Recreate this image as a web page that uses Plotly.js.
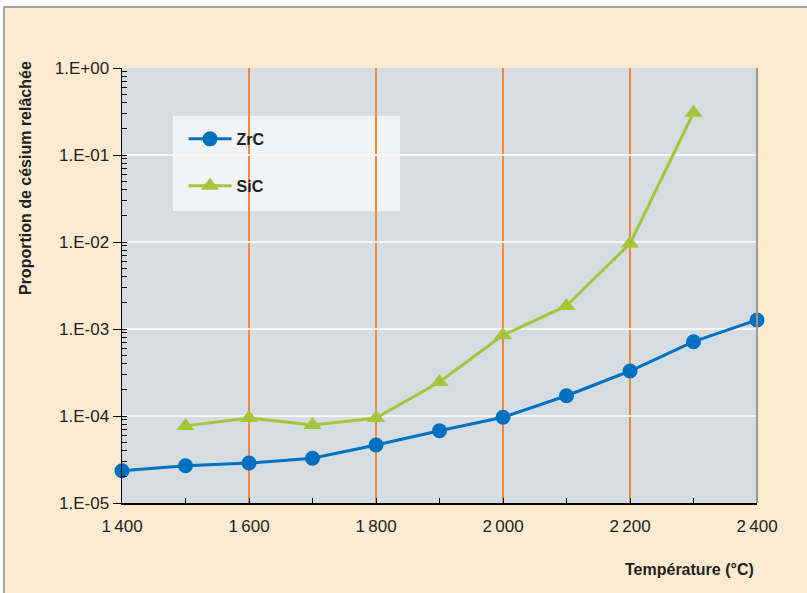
<!DOCTYPE html>
<html>
<head>
<meta charset="utf-8">
<script src="https://cdn.plot.ly/plotly-3.0.1.min.js"></script>
<style>
  html, body { margin: 0; padding: 0; background: #ffffff; }
  #frame { position: absolute; left: 3px; top: 6px; width: 804px; height: 587px;
           background: #FCEBD0; border-left: 2px solid #9EA6A6; border-top: 2px solid #9EA6A6; }
  #chart { position: absolute; left: 0; top: 0; width: 807px; height: 593px; }
</style>
</head>
<body>
<div id="frame"></div>
<div id="chart"></div>
<script>
const temperatures = [1400, 1500, 1600, 1700, 1800, 1900, 2000, 2100, 2200, 2300, 2400];
const zrcValues = [2.35e-5, 2.68e-5, 2.88e-5, 3.27e-5, 4.64e-5, 6.78e-5, 9.66e-5, 1.71e-4, 3.29e-4, 7.15e-4, 1.27e-3];
const sicTemps = [1500, 1600, 1700, 1800, 1900, 2000, 2100, 2200, 2300];
const sicValues = [7.7e-5, 9.5e-5, 7.9e-5, 9.5e-5, 2.46e-4, 8.5e-4, 1.84e-3, 9.6e-3, 0.306];
const xTickVals = [1400, 1600, 1800, 2000, 2200, 2400];
const xTickText = ['1\u2009400', '1\u2009600', '1\u2009800', '2\u2009000', '2\u2009200', '2\u2009400'];
const xMinorVals = [1500, 1700, 1900, 2100, 2300];
const yTickVals = [1, 0.1, 0.01, 0.001, 0.0001, 0.00001];
const yTickText = ['1.E+00', '1.E-01', '1.E-02', '1.E-03', '1.E-04', '1.E-05'];
const seriesNames = ['ZrC', 'SiC'];
const xTitle = 'Température (°C)';
const yTitle = 'Proportion de césium relâchée';

const blue = '#0070C0';
const green = '#A5C63B';
const font = '"Liberation Sans", Arial, Helvetica, sans-serif';

const traces = [
  { x: temperatures, y: zrcValues, name: seriesNames[0], type: 'scatter', mode: 'lines+markers',
    legendgroup: 'a', cliponaxis: false, yaxis: 'y2',
    line: { color: blue, width: 3 }, marker: { symbol: 'circle', size: 15, color: blue } },
  { x: sicTemps, y: sicValues, name: seriesNames[1], type: 'scatter', mode: 'lines+markers',
    legendgroup: 'b', cliponaxis: false, yaxis: 'y',
    line: { color: green, width: 3 }, marker: { symbol: 'triangle-up', size: 16, color: green } }
];

const layout = {
  width: 807, height: 593,
  margin: { l: 122, r: 50, t: 68, b: 90 },
  paper_bgcolor: 'rgba(0,0,0,0)',
  plot_bgcolor: '#D5DDE3',
  font: { family: font, size: 17, color: '#231F20' },
  showlegend: true,
  legend: { x: 0.0969, y: 0.876, xanchor: 'left', yanchor: 'top', bgcolor: 'rgba(0,0,0,0)',
            borderwidth: 0, itemwidth: 43, tracegroupgap: 23, traceorder: 'grouped',
            font: { family: font, size: 16, color: '#231F20', weight: 'bold' } },
  xaxis: {
    type: 'linear', range: [1400, 2400], fixedrange: true,
    tickmode: 'array', tickvals: xTickVals, ticktext: xTickText,
    ticks: 'inside', ticklen: 5, tickwidth: 1, tickcolor: '#000',
    ticklabelstandoff: 7,
    showline: true, linecolor: '#000', linewidth: 1.5,
    showgrid: true, gridcolor: '#F0893C', gridwidth: 1.5,
    zeroline: false,
    minor: { tickmode: 'array', tickvals: xMinorVals, ticks: 'inside', ticklen: 5, tickwidth: 1, tickcolor: '#000', showgrid: false },
    tickfont: { family: font, size: 17, color: '#231F20' }
  },
  yaxis: {
    type: 'log', range: [-5, 0], fixedrange: true,
    tickmode: 'array', tickvals: yTickVals, ticktext: yTickText,
    ticks: 'outside', ticklen: 8, tickwidth: 1, tickcolor: '#000',
    showline: true, linecolor: '#000', linewidth: 1.5,
    showgrid: true, gridcolor: '#F7F7F7', gridwidth: 2,
    zeroline: false,
    tickfont: { family: font, size: 17, color: '#231F20' }
  },
  yaxis2: {
    type: 'log', range: [-5, 0], fixedrange: true, overlaying: 'y', side: 'left', anchor: 'x',
    tickmode: 'linear', dtick: 'D1',
    ticks: 'inside', ticklen: 5, tickwidth: 1, tickcolor: '#000',
    showticklabels: false, showgrid: false, zeroline: false, showline: false
  },
  shapes: [
    { type: 'rect', xref: 'paper', yref: 'paper', x0: 0.0803, x1: 0.4378, y0: 0.671, y1: 0.890,
      fillcolor: '#F1F3F5', line: { width: 0 }, layer: 'below' },
    { type: 'line', xref: 'paper', yref: 'paper', x0: 1, x1: 1, y0: 0, y1: 1,
      line: { color: '#9E968C', width: 2 }, layer: 'above' }
  ],
  annotations: [
    { text: '<b>' + xTitle + '</b>', xref: 'paper', yref: 'paper', x: 0.893, y: -0.152,
      xanchor: 'center', yanchor: 'middle',
      showarrow: false, font: { family: font, size: 16, color: '#231F20' } },
    { text: '<b>' + yTitle + '</b>', xref: 'paper', yref: 'paper', x: -0.1528, y: 0.747,
      xanchor: 'center', yanchor: 'middle',
      textangle: -90, showarrow: false, font: { family: font, size: 16, color: '#231F20' } }
  ]
};

Plotly.newPlot('chart', traces, layout, { displayModeBar: false, staticPlot: true });
</script>
</body>
</html>
